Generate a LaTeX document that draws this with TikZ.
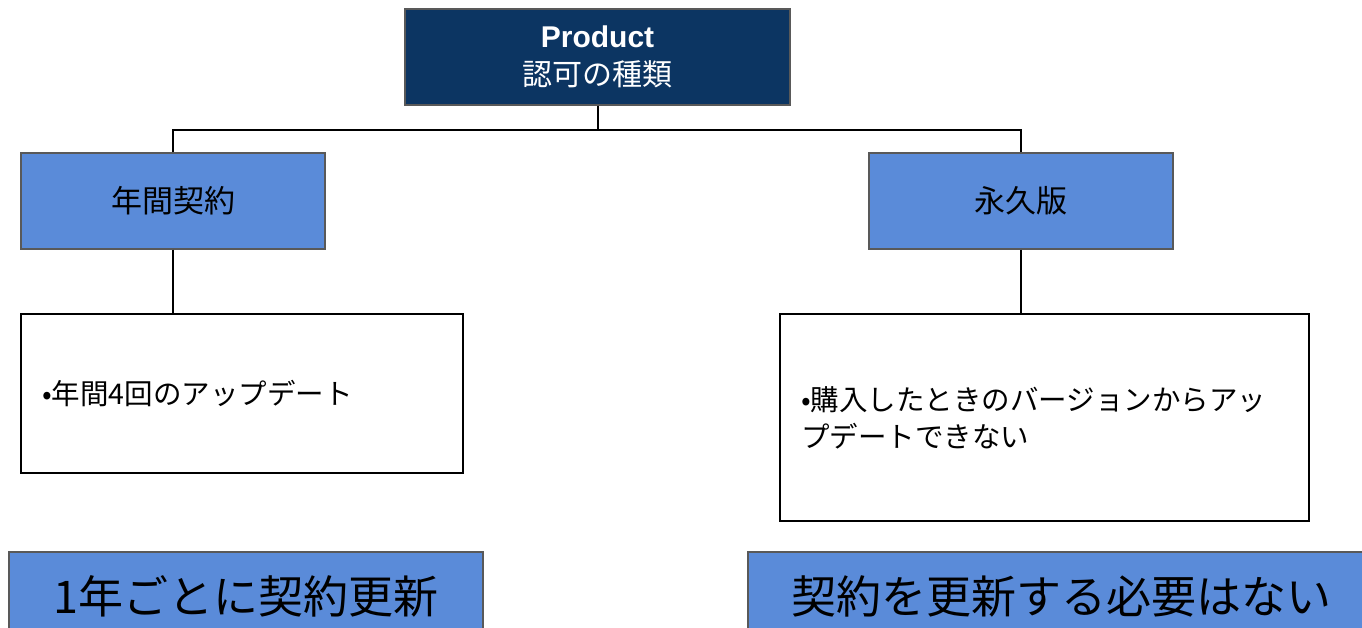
\documentclass[tikz,border=0pt]{standalone}
\usepackage{fontspec}
\setmainfont{Liberation Sans}
\newfontfamily\jpfont{Noto Sans CJK JP}
\usepackage{xcolor}
\usepackage{tikz}
\usetikzlibrary{positioning}
\definecolor{navyhead}{RGB}{12,53,98}
\definecolor{kindblue}{RGB}{90,139,217}

\tikzset{
  headbox/.style={draw=black!65, line width=1.2pt, fill=navyhead, text=white,
    minimum width=385pt, minimum height=96pt, align=center,
    font=\fontsize{30}{38}\selectfont},
  kindbox/.style={draw=black!65, line width=1.2pt, fill=kindblue,
    minimum width=304pt, minimum height=96pt,
    font=\jpfont\fontsize{31}{37}\selectfont},
  notebox/.style={draw=black, line width=2pt, fill=white, align=left,
    inner xsep=21pt, font=\jpfont\fontsize{28.5}{37}\selectfont},
  sumbox/.style={draw=black!65, line width=1.2pt, fill=kindblue,
    minimum height=88pt, font=\jpfont\fontsize{45}{54}\selectfont},
  link/.style={line width=2pt}
}

\begin{document}
\begin{tikzpicture}[x=1pt, y=-1pt]
  \useasboundingbox (0,0) rectangle (1362,628);
  \clip (0,0) rectangle (1362,628);

  % Top box
  \node[headbox] (prod) at (597.5,57)
    {\bfseries Product\\ \jpfont 認可の種類};

  % Kinds of licence
  \node[kindbox] (annual) at (173,201) {年間契約};
  \node[kindbox] (perp) at (1021,201) {永久版};

  % Notes under each kind
  \node[notebox, text width=400pt, minimum height=159pt] (annualnote)
    at (242,393.5) {•年間4回のアップデート};
  \node[notebox, text width=487pt, minimum height=207pt] (perpnote)
    at (1044.5,417.5)
    {•購入したときのバージョンからアッ\\プデートできない};

  % Summary boxes (cut off at the bottom edge)
  \node[sumbox, minimum width=474pt] (annualsum) at (246,596)
    {1年ごとに契約更新};
  \node[sumbox, minimum width=627pt] (perpsum) at (1061.5,596)
    {契約を更新する必要はない};

  % Connectors
  \path (prod.south) ++(0,24) coordinate (fork);
  \draw[link] (prod.south) -- (fork);
  \draw[link] (annual.north) |- (fork) -| (perp.north);
  \draw[link] (annual.south) -- (annual.south |- annualnote.north);
  \draw[link] (perp.south) -- (perp.south |- perpnote.north);

\end{tikzpicture}
\end{document}
